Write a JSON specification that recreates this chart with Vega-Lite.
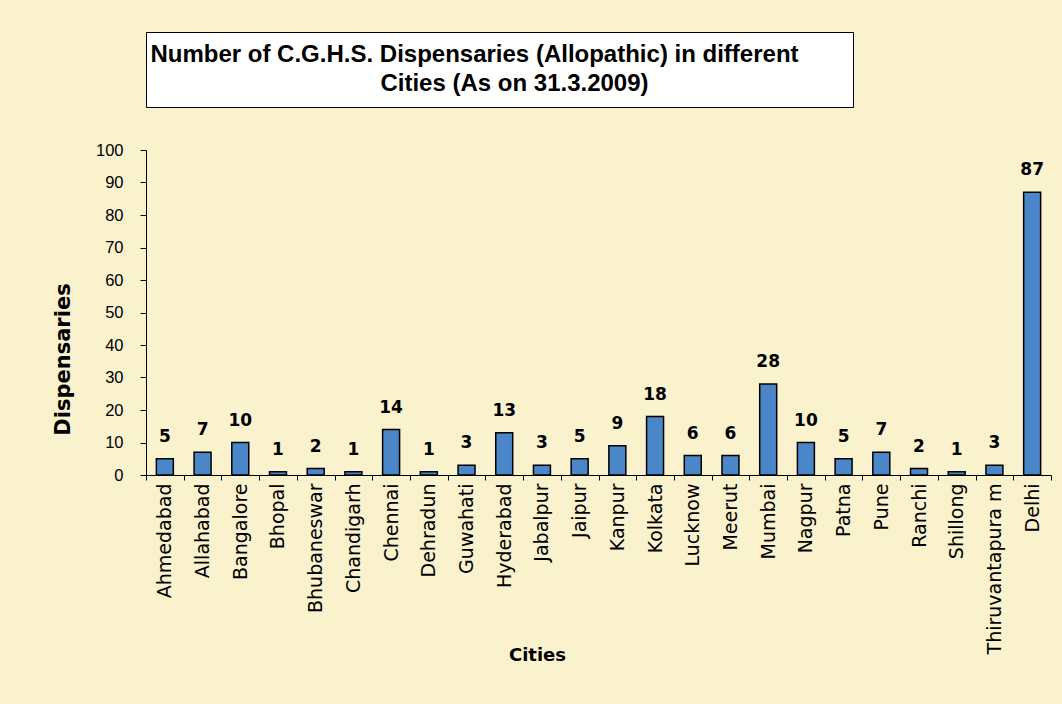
{
  "$schema": "https://vega.github.io/schema/vega-lite/v6.json",
  "background": "#FAF1CD",
  "padding": {"top": 31, "left": 52, "right": 10, "bottom": 41},
  "spacing": 34,
  "config": {"view": {"stroke": null}},
  "vconcat": [
    {
      "width": 707,
      "height": 75,
      "view": {"fill": "white", "stroke": "black", "strokeWidth": 1},
      "data": {"values": [{}]},
      "layer": [
        {
          "mark": {"type": "text", "text": "Number of C.G.H.S. Dispensaries (Allopathic) in different", "font": "Liberation Sans", "fontWeight": "bold", "fontSize": 24, "baseline": "middle", "align": "center", "dx": -25, "dy": -15, "color": "black"},
          "encoding": {}
        },
        {
          "mark": {"type": "text", "text": "Cities (As on 31.3.2009)", "font": "Liberation Sans", "fontWeight": "bold", "fontSize": 24, "baseline": "middle", "align": "center", "dx": 15, "dy": 14, "color": "black"},
          "encoding": {}
        }
      ]
    },
    {
      "width": 905,
      "height": 325,
      "data": {
        "values": [
          {"city": "Ahmedabad", "n": 5},
          {"city": "Allahabad", "n": 7},
          {"city": "Bangalore", "n": 10},
          {"city": "Bhopal", "n": 1},
          {"city": "Bhubaneswar", "n": 2},
          {"city": "Chandigarh", "n": 1},
          {"city": "Chennai", "n": 14},
          {"city": "Dehradun", "n": 1},
          {"city": "Guwahati", "n": 3},
          {"city": "Hyderabad", "n": 13},
          {"city": "Jabalpur", "n": 3},
          {"city": "Jaipur", "n": 5},
          {"city": "Kanpur", "n": 9},
          {"city": "Kolkata", "n": 18},
          {"city": "Lucknow", "n": 6},
          {"city": "Meerut", "n": 6},
          {"city": "Mumbai", "n": 28},
          {"city": "Nagpur", "n": 10},
          {"city": "Patna", "n": 5},
          {"city": "Pune", "n": 7},
          {"city": "Ranchi", "n": 2},
          {"city": "Shillong", "n": 1},
          {"city": "Thiruvantapura m", "n": 3},
          {"city": "Delhi", "n": 87}
        ]
      },
      "encoding": {
        "x": {
          "field": "city",
          "type": "nominal",
          "sort": null,
          "title": "Cities",
          "scale": {"paddingInner": 0, "paddingOuter": 0},
          "axis": {
            "labelAngle": -90,
            "labelAlign": "right",
            "labelBaseline": "middle",
            "labelFont": "DejaVu Sans",
            "labelFontSize": 19,
            "labelColor": "black",
            "labelPadding": 3,
            "labelLimit": 300,
            "tickSize": 5,
            "tickColor": "black",
            "domainColor": "black",
            "tickBand": "extent",
            "titleFont": "DejaVu Sans",
            "titleFontSize": 18,
            "titleFontWeight": "bold",
            "titleColor": "black",
            "titleX": 391,
            "titleY": 180,
            "titleAlign": "center",
            "titleBaseline": "middle",
            "titleAngle": 0
          }
        },
        "y": {
          "field": "n",
          "type": "quantitative",
          "title": "Dispensaries",
          "scale": {"domain": [0, 100]},
          "axis": {
            "values": [0, 10, 20, 30, 40, 50, 60, 70, 80, 90, 100],
            "grid": false,
            "labelFont": "Liberation Sans",
            "labelFontSize": 16.5,
            "labelColor": "black",
            "labelPadding": 17,
            "tickSize": 6,
            "tickColor": "black",
            "domainColor": "black",
            "titleFont": "DejaVu Sans",
            "titleFontSize": 21,
            "titleFontWeight": "bold",
            "titleColor": "black",
            "titleX": -83,
            "titleY": 209,
            "titleAlign": "center",
            "titleBaseline": "middle",
            "titleAngle": 270
          }
        }
      },
      "layer": [
        {
          "mark": {"type": "bar", "width": {"band": 0.45}, "fill": "#4A86C8", "stroke": "black", "strokeWidth": 1.5}
        },
        {
          "mark": {"type": "text", "font": "DejaVu Sans", "fontWeight": "bold", "fontSize": 17, "baseline": "alphabetic", "dy": -17, "color": "black"},
          "encoding": {"text": {"field": "n", "type": "quantitative"}}
        }
      ]
    }
  ]
}
